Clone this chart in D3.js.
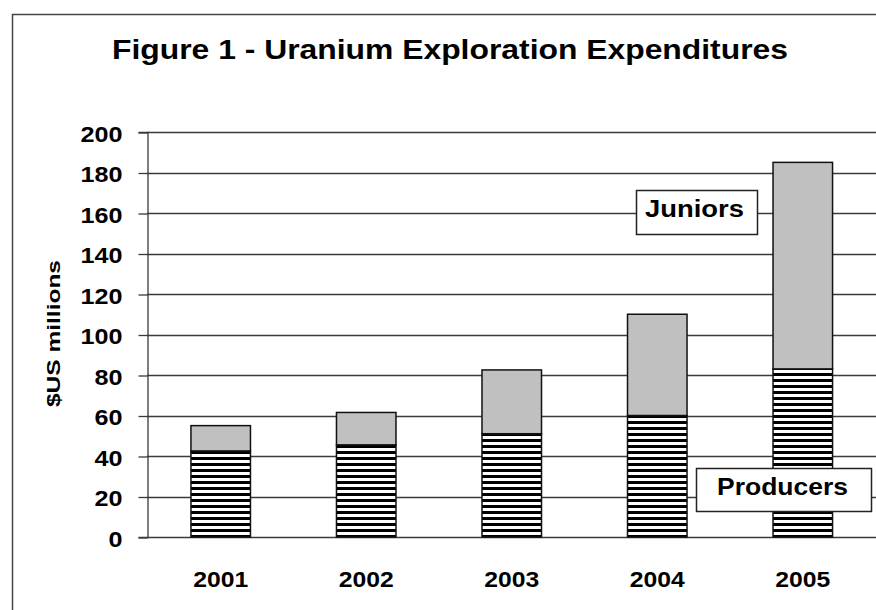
<!DOCTYPE html>
<html>
<head>
<meta charset="utf-8">
<script src="https://cdn.jsdelivr.net/npm/d3@7"></script>
<style>
  html, body { margin: 0; padding: 0; background: #fff; }
  svg { display: block; }
  text { font-family: "Liberation Sans", Arial, sans-serif; font-weight: bold; fill: #000; }
</style>
</head>
<body>
<svg id="chart" width="876" height="610"></svg>
<script>
// ---- data ----
const years = ["2001", "2002", "2003", "2004", "2005"];
const producers = [42.5, 45.5, 51, 60, 83];
const juniors = [12.5, 16, 31.5, 50, 102];
const yTicks = [0, 20, 40, 60, 80, 100, 120, 140, 160, 180, 200];
const seriesNames = ["Producers", "Juniors"];
const titleText = "Figure 1 - Uranium Exploration Expenditures";
const yLabel = "$US millions";

// ---- layout ----
const plot = { left: 147, right: 876.5, top: 132, bottom: 537 };

const svg = d3.select("#chart");

// pattern for producers
const defs = svg.append("defs");
const pat = defs.append("pattern")
  .attr("id", "hatch")
  .attr("patternUnits", "userSpaceOnUse")
  .attr("width", 8).attr("height", 6)
  .attr("y", 1);
pat.append("rect").attr("width", 8).attr("height", 6).attr("fill", "#fff");
pat.append("rect").attr("width", 8).attr("height", 3).attr("fill", "#000");

// outer border
svg.append("rect")
  .attr("x", 12.5).attr("y", 14.5)
  .attr("width", 900).attr("height", 700)
  .attr("fill", "#fff").attr("stroke", "#444").attr("stroke-width", 1.5);

// title
svg.append("text")
  .attr("x", 112).attr("y", 59)
  .attr("font-size", 27)
  .attr("textLength", 676).attr("lengthAdjust", "spacingAndGlyphs")
  .text(titleText);

// scales
const x = d3.scaleBand().domain(years)
  .range([plot.left, plot.right])
  .paddingInner(0.591).paddingOuter(0.302);
const y = d3.scaleLinear().domain([0, 200]).range([plot.bottom, plot.top]);

// gridlines
svg.append("g").selectAll("line").data(yTicks.filter(d => d > 0)).join("line")
  .attr("x1", plot.left).attr("x2", plot.right + 20)
  .attr("y1", d => Math.round(y(d)) + 0.5).attr("y2", d => Math.round(y(d)) + 0.5)
  .attr("stroke", "#3a3a3a").attr("stroke-width", 1.3);

// y axis
const yAxis = d3.axisLeft(y).tickValues(yTicks).tickSize(9).tickPadding(0).tickFormat(d => d);
const gy = svg.append("g").attr("transform", `translate(${plot.left + 0.5},0)`).call(yAxis);
gy.select(".domain").attr("stroke", "#3a3a3a").attr("stroke-width", 1.3);
gy.selectAll(".tick line").attr("stroke", "#3a3a3a").attr("stroke-width", 1.3)
  .attr("transform", "translate(0,0.5)");
gy.selectAll(".tick text").remove();
gy.selectAll(".tick").append("text")
  .attr("x", -25).attr("y", 9)
  .attr("text-anchor", "end")
  .attr("font-size", 22)
  .attr("textLength", d => String(d).length * 14)
  .attr("lengthAdjust", "spacingAndGlyphs")
  .style("font-family", '"Liberation Sans", Arial, sans-serif')
  .style("font-weight", "bold")
  .text(d => d);

// x axis line
svg.append("line")
  .attr("x1", plot.left).attr("x2", plot.right + 20)
  .attr("y1", plot.bottom + 0.5).attr("y2", plot.bottom + 0.5)
  .attr("stroke", "#3a3a3a").attr("stroke-width", 1.3);

// bars
const stackData = years.map((yr, i) => ({ year: yr, Producers: producers[i], Juniors: juniors[i] }));
const stacked = d3.stack().keys(seriesNames)(stackData);
const fills = { Producers: "url(#hatch)", Juniors: "#c0c0c0" };
svg.append("g").selectAll("g").data(stacked).join("g")
  .attr("fill", d => fills[d.key])
  .selectAll("rect").data(d => d).join("rect")
  .attr("x", d => x(d.data.year))
  .attr("width", x.bandwidth())
  .attr("y", d => y(d[1]))
  .attr("height", d => y(d[0]) - y(d[1]))
  .attr("stroke", "#111").attr("stroke-width", 1.5);

// x labels
svg.append("g").selectAll("text").data(years).join("text")
  .attr("x", d => x(d) + x.bandwidth() / 2)
  .attr("y", 587)
  .attr("text-anchor", "middle")
  .attr("font-size", 22)
  .attr("textLength", 55).attr("lengthAdjust", "spacingAndGlyphs")
  .text(d => d);

// y label
svg.append("text")
  .attr("transform", "translate(60,333.5) rotate(-90)")
  .attr("text-anchor", "middle")
  .attr("font-size", 19)
  .attr("textLength", 147).attr("lengthAdjust", "spacingAndGlyphs")
  .text(yLabel);

// series label boxes
const boxes = [
  { name: "Juniors", x: 636, y: 190, w: 121, h: 44, tx: 645, tl: 99, base: 217, fs: 23 },
  { name: "Producers", x: 696, y: 468, w: 175, h: 43, tx: 717, tl: 131, base: 495, fs: 24 }
];
const bg = svg.append("g").selectAll("g").data(boxes).join("g");
bg.append("rect")
  .attr("x", d => d.x + 0.5).attr("y", d => d.y + 0.5)
  .attr("width", d => d.w).attr("height", d => d.h)
  .attr("fill", "#fff").attr("stroke", "#222").attr("stroke-width", 1.5);
bg.append("text")
  .attr("x", d => d.tx).attr("y", d => d.base)
  .attr("font-size", d => d.fs)
  .attr("textLength", d => d.tl).attr("lengthAdjust", "spacingAndGlyphs")
  .text(d => d.name);
</script>
</body>
</html>
